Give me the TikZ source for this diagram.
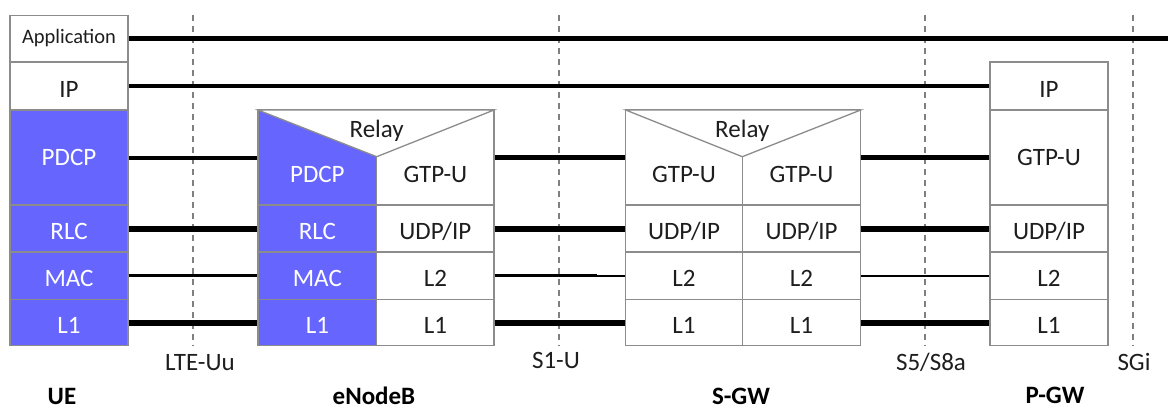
\documentclass[tikz,border=0pt]{standalone}
\usepackage{fontspec}
\setmainfont{Carlito}
\definecolor{stackblue}{RGB}{102,102,255}
\definecolor{cellgray}{RGB}{140,140,140}
\definecolor{dashgray}{RGB}{128,128,128}
\definecolor{inkdark}{RGB}{30,30,30}
\begin{document}
\begin{tikzpicture}[x=1pt,y=-1pt,
  txt/.style={font=\fontsize{25}{28}\selectfont},
  capcentre/.style={text height=16.1pt, text depth=0pt},
  cell/.style={txt, draw=cellgray, line width=1.3pt, fill=white, inner sep=0pt,
    text height=22pt, text depth=0pt, text=inkdark},
  bluecell/.style={cell, fill=stackblue, text=white},
  lowtext/.style={text height=49pt},
  midtext/.style={text height=16.1pt},
  relay/.style={draw=cellgray, line width=1.3pt, fill=white, line join=miter},
  wire/.style={draw=black, line cap=butt},
  iface/.style={draw=dashgray, line width=1.2pt, dash pattern=on 6pt off 5pt},
  ifacelabel/.style={txt, capcentre, text=inkdark, inner sep=0pt},
  entity/.style={font=\fontsize{25}{28}\selectfont\bfseries, capcentre, text=black, inner sep=0pt}
]
\useasboundingbox (0,0) rectangle (1168,416);

% reference points (interfaces)
\path (193,15) coordinate (uu-top) (193,346) coordinate (uu-bot)
  (559,15) coordinate (s1-top) (559,346) coordinate (s1-bot)
  (925,15) coordinate (s5-top) (925,346) coordinate (s5-bot)
  (1133,15) coordinate (sgi-top) (1133,346) coordinate (sgi-bot);
\draw[iface] (uu-top) -- (uu-bot);
\draw[iface] (s1-top) -- (s1-bot);
\draw[iface] (s5-top) -- (s5-bot);
\draw[iface] (sgi-top) -- (sgi-bot);

% UE protocol stack
\node[cell, text height=9.7pt, minimum width=118pt, minimum height=46.5pt] (ue-app) at (69,38.75) {\fontsize{20.5}{24}\selectfont Application};
\node[cell, minimum width=118pt, minimum height=48pt] (ue-ip) at (69,86) {IP};
\node[bluecell, midtext, minimum width=118pt, minimum height=95pt] (ue-pdcp) at (69,157.5) {PDCP};
\node[bluecell, minimum width=118pt, minimum height=47pt] (ue-rlc) at (69,228.5) {RLC};
\node[bluecell, minimum width=118pt, minimum height=47.5pt] (ue-mac) at (69,275.75) {MAC};
\node[bluecell, minimum width=118pt, minimum height=46pt] (ue-l1) at (69,322.5) {L1};

% eNodeB protocol stack
\node[bluecell, lowtext, minimum width=118.7pt, minimum height=95pt] (enb-pdcp) at (317.35,157.5) {PDCP};
\node[bluecell, minimum width=118.7pt, minimum height=47pt] (enb-rlc) at (317.35,228.5) {RLC};
\node[bluecell, minimum width=118.7pt, minimum height=47.5pt] (enb-mac) at (317.35,275.75) {MAC};
\node[bluecell, minimum width=118.7pt, minimum height=46pt] (enb-l1) at (317.35,322.5) {L1};
\node[cell, lowtext, minimum width=117.3pt, minimum height=95pt] (enb-gtp) at (435.35,157.5) {GTP-U};
\node[cell, minimum width=117.3pt, minimum height=47pt] (enb-udp) at (435.35,228.5) {UDP/IP};
\node[cell, minimum width=117.3pt, minimum height=47.5pt] (enb-l2) at (435.35,275.75) {L2};
\node[cell, minimum width=117.3pt, minimum height=46pt] (enb-l1r) at (435.35,322.5) {L1};
\filldraw[relay] (258,110) -- (494,110) -- (376.7,156.7) -- cycle;
\node[ifacelabel] (enb-relay) at (376.7,129) {Relay};

% S-GW protocol stack
\node[cell, lowtext, minimum width=116.6pt, minimum height=95pt] (sgw-gtp-a) at (684,157.5) {GTP-U};
\node[cell, minimum width=116.6pt, minimum height=47pt] (sgw-udp-a) at (684,228.5) {UDP/IP};
\node[cell, minimum width=116.6pt, minimum height=47.5pt] (sgw-l2-a) at (684,275.75) {L2};
\node[cell, minimum width=116.6pt, minimum height=46pt] (sgw-l1-a) at (684,322.5) {L1};
\node[cell, lowtext, minimum width=118.4pt, minimum height=95pt] (sgw-gtp-b) at (801.5,157.5) {GTP-U};
\node[cell, minimum width=118.4pt, minimum height=47pt] (sgw-udp-b) at (801.5,228.5) {UDP/IP};
\node[cell, minimum width=118.4pt, minimum height=47.5pt] (sgw-l2-b) at (801.5,275.75) {L2};
\node[cell, minimum width=118.4pt, minimum height=46pt] (sgw-l1-b) at (801.5,322.5) {L1};
\filldraw[relay] (625.7,110) -- (860.7,110) -- (742.3,156.7) -- cycle;
\node[ifacelabel] (sgw-relay) at (742.3,129) {Relay};

% P-GW protocol stack
\node[cell, minimum width=118pt, minimum height=48pt] (pgw-ip) at (1049,86) {IP};
\node[cell, midtext, minimum width=118pt, minimum height=95pt] (pgw-gtp) at (1049,157.5) {GTP-U};
\node[cell, minimum width=118pt, minimum height=47pt] (pgw-udp) at (1049,228.5) {UDP/IP};
\node[cell, minimum width=118pt, minimum height=47.5pt] (pgw-l2) at (1049,275.75) {L2};
\node[cell, minimum width=118pt, minimum height=46pt] (pgw-l1) at (1049,322.5) {L1};

% peer-to-peer links
\coordinate (app-end) at (1168,38.75);
\draw[wire, line width=5.3pt] (ue-app.east) -- (app-end);
\draw[wire, line width=4pt] (ue-ip.east) -- (pgw-ip.west);
\draw[wire, line width=4pt] (ue-pdcp.east) -- (enb-pdcp.west);
\draw[wire, line width=6pt] (ue-rlc.east) -- (enb-rlc.west);
\draw[wire, line width=3pt] (ue-mac.east) -- (enb-mac.west);
\draw[wire, line width=6pt] (ue-l1.east) -- (enb-l1.west);

\draw[wire, line width=5pt] (enb-gtp.east) -- (sgw-gtp-a.west);
\draw[wire, line width=6pt] (enb-udp.east) -- (sgw-udp-a.west);
\coordinate (l2-step) at (597,275.75);
\draw[wire, line width=3pt] (enb-l2.east) -- (l2-step);
\draw[wire, line width=2pt] (l2-step) -- (sgw-l2-a.west);
\draw[wire, line width=6pt] (enb-l1r.east) -- (sgw-l1-a.west);

\draw[wire, line width=5pt] (sgw-gtp-b.east) -- (pgw-gtp.west);
\draw[wire, line width=6pt] (sgw-udp-b.east) -- (pgw-udp.west);
\draw[wire, line width=2.5pt] (sgw-l2-b.east) -- (pgw-l2.west);
\draw[wire, line width=6pt] (sgw-l1-b.east) -- (pgw-l1.west);

% interface names
\node[ifacelabel] (lbl-uu) at (200,362.5) {LTE-Uu};
\node[ifacelabel] (lbl-s1) at (556,360.5) {S1-U};
\node[ifacelabel] (lbl-s5) at (931,362.5) {S5/S8a};
\node[ifacelabel] (lbl-sgi) at (1134,362.5) {SGi};

% network elements
\node[entity] (lbl-ue) at (62,396) {UE};
\node[entity] (lbl-enb) at (374,396) {eNodeB};
\node[entity] (lbl-sgw) at (741,396) {S-GW};
\node[entity] (lbl-pgw) at (1055,395) {P-GW};
\end{tikzpicture}
\end{document}
